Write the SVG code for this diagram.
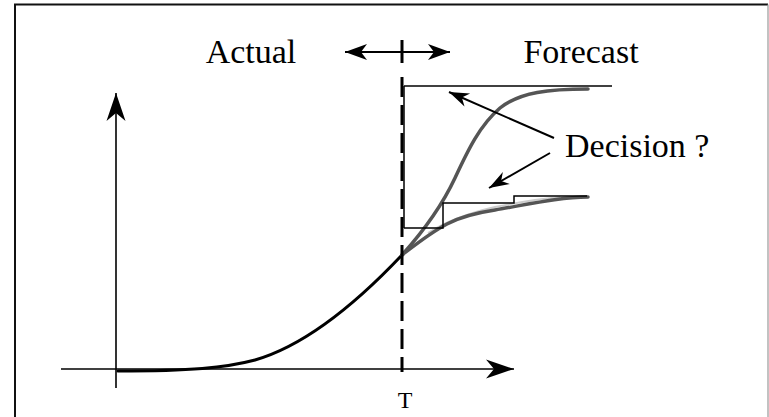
<svg xmlns="http://www.w3.org/2000/svg" width="769" height="417" viewBox="0 0 769 417">
  <style>
    text { font-family: 'Liberation Serif', 'DejaVu Serif', serif; fill: #000; }
    .axis { stroke: #000; stroke-width: 1.6; fill: none; }
    .thin { stroke: #000; stroke-width: 1.5; fill: none; }
    .grey { stroke: #555; stroke-width: 3.5; fill: none; stroke-linecap: round; stroke-linejoin: round; }
    .actual { stroke: #000; stroke-width: 3; fill: none; stroke-linecap: round; }
    .ptr { stroke: #000; stroke-width: 2; fill: none; }
  </style>
  <defs>
    <marker id="axisHead" viewBox="-30 -12 32 24" refX="0" refY="0" markerWidth="32" markerHeight="24" markerUnits="userSpaceOnUse" orient="auto">
      <path d="M0,0 L-28,-9.5 L-20,0 L-28,9.5 Z" fill="#000"/>
    </marker>
    <marker id="dblHead" viewBox="-24 -10 26 20" refX="0" refY="0" markerWidth="26" markerHeight="20" markerUnits="userSpaceOnUse" orient="auto-start-reverse">
      <path d="M0,0 L-22,-8 L-16,0 L-22,8 Z" fill="#000"/>
    </marker>
    <marker id="ptrHead" viewBox="-22 -9 24 18" refX="0" refY="0" markerWidth="24" markerHeight="18" markerUnits="userSpaceOnUse" orient="auto">
      <path d="M0,0 L-20,-7 L-14,0 L-20,7 Z" fill="#000"/>
    </marker>
  </defs>

  <g id="frame">
    <path d="M15,418 L15,4.5 L768,4.5" fill="none" stroke="#111" stroke-width="2"/>
    <path d="M768,4.5 L768,418" fill="none" stroke="#999" stroke-width="1.2"/>
  </g>

  <g id="labels">
    <text x="251" y="63" font-size="34" text-anchor="middle">Actual</text>
    <text x="581" y="63" font-size="34" text-anchor="middle">Forecast</text>
    <text x="565" y="157" font-size="34">Decision ?</text>
    <text x="405" y="408" font-size="24" text-anchor="middle">T</text>
  </g>

  <g id="curves">
    <path class="actual" d="M118,371 C190,371 225,368 255,360 C300,347 350,310 402,255"/>
    <path d="M428,233 C445,222 465,214 495,207 C520,202 540,199 560,197" fill="none" stroke="#ccc" stroke-width="2"/>
    <path class="grey" d="M402,255 C420,235 440,210 455,178 C468,150 480,125 500,108 C520,92 550,89 588,89"/>
    <path class="grey" d="M402,255 C415,245 430,233 447,224 C460,217 475,213 495,210 C530,204 560,197 588,197"/>
  </g>

  <g id="decisions">
    <line class="thin" x1="404" y1="86" x2="612" y2="86"/>
    <path class="thin" d="M404,86 L404,228 M404,228 L443,228 L443,203 L514,203 L514,196 L587,196"/>
  </g>

  <g id="connectors">
    <line class="axis" x1="116" y1="388" x2="116" y2="93" marker-end="url(#axisHead)"/>
    <line class="axis" x1="61" y1="369" x2="514" y2="369" marker-end="url(#axisHead)"/>
    <line x1="345" y1="52" x2="450" y2="52" stroke="#000" stroke-width="2" marker-start="url(#dblHead)" marker-end="url(#dblHead)"/>
    <line x1="402" y1="40" x2="402" y2="63" stroke="#000" stroke-width="3"/>
    <line x1="402" y1="77" x2="402" y2="372" stroke="#000" stroke-width="3" stroke-dasharray="20 8"/>
    <line class="ptr" x1="554" y1="138" x2="449" y2="92" marker-end="url(#ptrHead)"/>
    <line class="ptr" x1="550" y1="153" x2="489" y2="188" marker-end="url(#ptrHead)"/>
  </g>
</svg>
